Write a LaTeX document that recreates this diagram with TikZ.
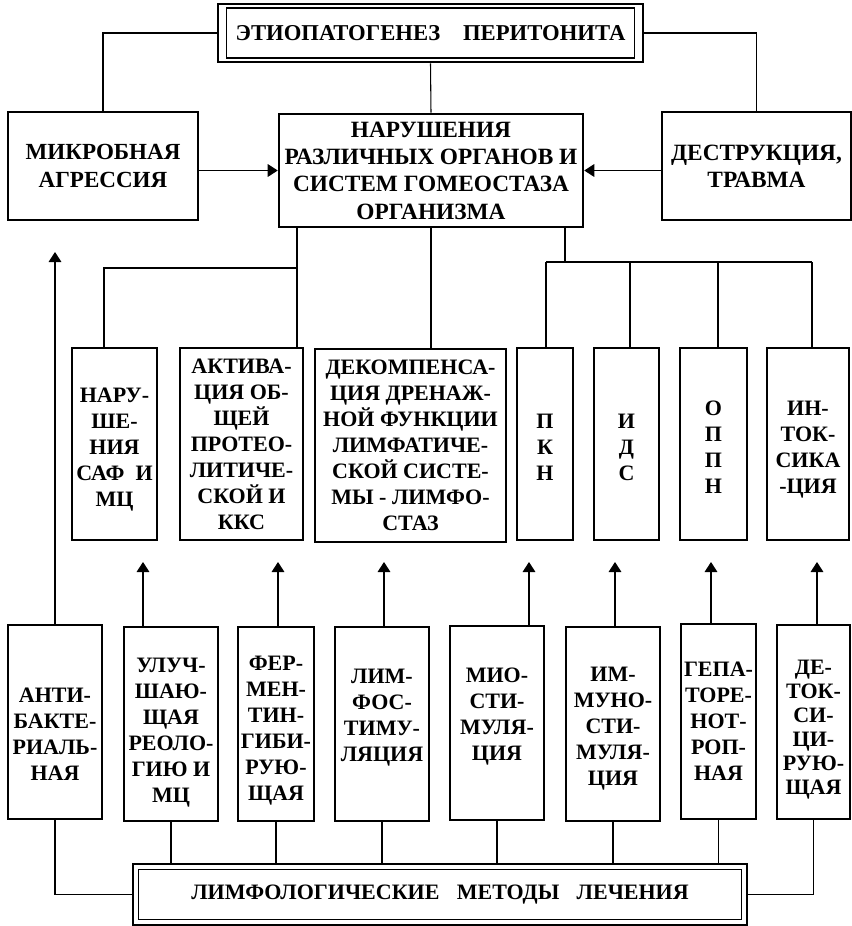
\documentclass[tikz,border=0pt]{standalone}
\usepackage{fontspec}
\setmainfont{Liberation Serif}
\usetikzlibrary{arrows.meta}

% lines of a box, moved down by #1
\newcommand{\shifttxt}[2]{\raisebox{-#1}[\height][\depth]{\begin{tabular}{@{}c@{}}#2\end{tabular}}}

\tikzset{
  box/.style={draw, line width=1.9pt, align=center, inner sep=0pt,
    font=\bfseries\fontsize{16.5}{19.5}\selectfont},
  frame/.style={line width=1.4pt},
  line/.style={line width=0.8pt},
  arr/.style={line width=0.8pt, -{Triangle[width=9.5pt,length=7.5pt]}},
}

\begin{document}
\begin{tikzpicture}[x=0.75pt,y=-0.75pt]
\useasboundingbox (0,0) rectangle (852,926);

% top row
\node[box, line width=2.2pt, minimum width=318.75pt, minimum height=43.5pt,
  font=\bfseries\fontsize{17}{20}\selectfont] (etio) at (430.5,33)
  {ЭТИОПАТОГЕНЕЗ\hspace{17pt}ПЕРИТОНИТА};
\draw[frame] ([shift={(7.5pt,-3.8pt)}]etio.north west) rectangle ([shift={(-7.5pt,3.8pt)}]etio.south east);

\node[box, minimum width=142.5pt, minimum height=81pt,
  font=\bfseries\fontsize{17.3}{20.5}\selectfont] (mikr) at (103,166)
  {МИКРОБНАЯ\\АГРЕССИЯ};
\node[box, minimum width=228pt, minimum height=84.75pt,
  font=\bfseries\fontsize{17.5}{20.5}\selectfont] (narg) at (431,170.5)
  {НАРУШЕНИЯ\\РАЗЛИЧНЫХ ОРГАНОВ И\\СИСТЕМ ГОМЕОСТАЗА\\ОРГАНИЗМА};
\node[box, minimum width=141.75pt, minimum height=81pt,
  font=\bfseries\fontsize{17.5}{20.5}\selectfont] (destr) at (756.5,166)
  {ДЕСТРУКЦИЯ,\\ТРАВМА};

\draw[line] (etio.west) -| (mikr.north);
\draw[line] (etio.east) -| (destr.north);
\draw[line] (etio.south) -- (narg.north);
\draw[arr] (mikr.east |- narg.west) -- (narg.west);
\draw[arr] (destr.west |- narg.east) -- (narg.east);

% middle row
\node[box, minimum width=63.75pt, minimum height=144pt] (saf) at (114.5,444)
  {\shifttxt{4pt}{НАРУ-\\ШЕ-\\НИЯ\\САФ\ \ И\\МЦ}};
\node[box, minimum width=92.25pt, minimum height=144pt] (prot) at (241.5,444)
  {АКТИВА-\\ЦИЯ ОБ-\\ЩЕЙ\\ПРОТЕО-\\ЛИТИЧЕ-\\СКОЙ И\\ККС};
\node[box, minimum width=143.25pt, minimum height=144.75pt] (lstaz) at (410.5,445.5)
  {ДЕКОМПЕНСА-\\ЦИЯ ДРЕНАЖ-\\НОЙ ФУНКЦИИ\\ЛИМФАТИЧЕ-\\СКОЙ СИСТЕ-\\МЫ - ЛИМФО-\\СТАЗ};
\node[box, minimum width=42pt, minimum height=144pt] (pkn) at (545,444)
  {\shifttxt{4pt}{П\\К\\Н}};
\node[box, minimum width=48.75pt, minimum height=144pt] (ids) at (626.5,444)
  {\shifttxt{4pt}{И\\Д\\С}};
\node[box, minimum width=50.25pt, minimum height=144pt] (oppn) at (713.5,444)
  {\shifttxt{4pt}{О\\П\\П\\Н}};
\node[box, minimum width=61.5pt, minimum height=144pt] (intox) at (808,444)
  {\shifttxt{4pt}{ИН-\\ТОК-\\СИКА\\-ЦИЯ}};

\coordinate (jl) at (297,268);
\coordinate (jn) at (104,268);
\coordinate (jr) at (565,262);
\draw[line] (narg.south -| jl) -- (prot.north -| jl);
\draw[line] (jl) -- (jn) -- (saf.north -| jn);
\draw[line] (narg.south) -- (narg.south |- lstaz.north);
\draw[line] (narg.south -| jr) -- (jr);
\draw[line] (546,262) -- (812,262);
\foreach \n/\x in {pkn/546,ids/630,oppn/718,intox/812}
  \draw[line] (\x,262) -- (\n.north -| \x,0);

% bottom row
\node[box, minimum width=70.5pt, minimum height=145.5pt] (abakt) at (55,722)
  {\shifttxt{11pt}{АНТИ-\\БАКТЕ-\\РИАЛЬ-\\НАЯ}};
\node[box, minimum width=70.5pt, minimum height=145.5pt] (reol) at (171,724)
  {\shifttxt{6pt}{УЛУЧ-\\ШАЮ-\\ЩАЯ\\РЕОЛО-\\ГИЮ И\\МЦ}};
\node[box, minimum width=57pt, minimum height=145.5pt] (ferm) at (276,724)
  {\shifttxt{5pt}{ФЕР-\\МЕН-\\ТИН-\\ГИБИ-\\РУЮ-\\ЩАЯ}};
\node[box, minimum width=70.5pt, minimum height=145.5pt] (lstim) at (382,724)
  {\shifttxt{-5pt}{ЛИМ-\\ФОС-\\ТИМУ-\\ЛЯЦИЯ}};
\node[box, minimum width=70.5pt, minimum height=145.5pt] (miost) at (497,723)
  {\shifttxt{-5pt}{МИО-\\СТИ-\\МУЛЯ-\\ЦИЯ}};
\node[box, minimum width=70.5pt, minimum height=145.5pt] (immun) at (613,724)
  {\shifttxt{3pt}{ИМ-\\МУНО-\\СТИ-\\МУЛЯ-\\ЦИЯ}};
\node[box, minimum width=56.25pt, minimum height=146.25pt] (gepat) at (718.5,721.5)
  {ГЕПА-\\ТОРЕ-\\НОТ-\\РОП-\\НАЯ};
\node[box, minimum width=54.75pt, minimum height=145.5pt,
  font=\bfseries\fontsize{16.5}{18}\selectfont] (detox) at (813.5,722)
  {\shifttxt{6pt}{ДЕ-\\ТОК-\\СИ-\\ЦИ-\\РУЮ-\\ЩАЯ}};

\node[box, line width=2.2pt, minimum width=460.5pt, minimum height=45.75pt] (lmet) at (440,894.5)
  {ЛИМФОЛОГИЧЕСКИЕ\hspace{13pt}МЕТОДЫ\hspace{13pt}ЛЕЧЕНИЯ};
\draw[frame] ([shift={(5.25pt,-5.25pt)}]lmet.north west) rectangle ([shift={(-5.25pt,5.25pt)}]lmet.south east);

% arrows up
\coordinate (tipa) at (57,252);
\draw[arr] (abakt.north) -- (abakt.north |- tipa);
\foreach \n/\x in {reol/143,ferm/278,lstim/384,miost/529,immun/615,gepat/711,detox/817}{
  \coordinate (tip\n) at (\x,562);
  \draw[arr] (\n.north -| tip\n) -- (tip\n);
}

% links to the bottom frame
\foreach \n in {reol,ferm,lstim,miost,immun,gepat}
  \draw[line] (\n.south) -- (\n.south |- lmet.north);
\draw[line] (abakt.south) |- (lmet.west);
\draw[line] (detox.south) |- (lmet.east);
\end{tikzpicture}
\end{document}
